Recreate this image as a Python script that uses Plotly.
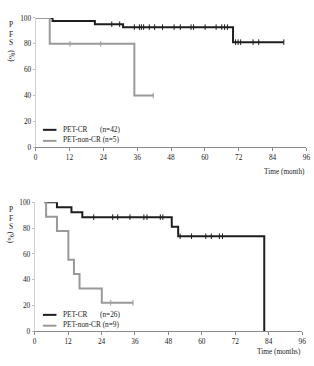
import plotly.graph_objects as go

# ---------------- data ----------------
# Top panel (PET-CR n=42, PET-non-CR n=5)
top_cr_t = [0, 6, 21, 31, 70, 88]
top_cr_s = [100, 97.6, 95.2, 92.9, 81.3, 81.3]
top_cr_cens = [27, 29.8, 35, 36.8, 37.5, 38.3, 40.3, 42.2, 45, 49.1, 51.3, 55.1, 56,
               60.1, 64, 66, 67, 68, 70.9, 71.8, 72.7, 77.1, 79.1, 88]
top_ncr_t = [0, 5, 35, 41.7]
top_ncr_s = [100, 80, 40, 40]
top_ncr_cens = [12.2, 23.1, 41.7]

# Bottom panel (PET-CR n=26, PET-non-CR n=9)
bot_cr_t = [3.5, 8, 13.2, 17.1, 49.2, 51.5, 82.4]
bot_cr_s = [100, 96.2, 92.3, 88.5, 81.1, 73.7, 0]
bot_cr_cens = [21.2, 28, 29.8, 34.2, 39.2, 40.3, 45.1, 46, 52.2, 56.3, 61.4, 63.4, 66.3, 67.4]
bot_ncr_t = [3.5, 4.1, 8, 12.1, 14.1, 16.1, 24.1, 35.3]
bot_ncr_s = [100, 88.9, 77.8, 55.6, 44.4, 33.3, 22.2, 22.2]
bot_ncr_cens = [27.3, 35.3]

x_ticks = [0, 12, 24, 36, 48, 60, 72, 84, 96]
y_ticks = [0, 20, 40, 60, 80, 100]

BLACK = "#1e1e1e"
GRAY = "#9a9a9a"
TXT = "#222222"
FONT = "Liberation Serif"
W, H = 314, 366


def surv_at(ts, ss, t):
    v = ss[0]
    for ti, si in zip(ts, ss):
        if ti <= t:
            v = si
    return v


fig = go.Figure()


def add_panel(ts1, ss1, c1, ts2, ss2, c2, xa, ya):
    fig.add_trace(go.Scatter(x=ts1, y=ss1, mode="lines", line=dict(color=BLACK, width=2, shape="hv"),
                             xaxis=xa, yaxis=ya, showlegend=False, hoverinfo="skip"))
    fig.add_trace(go.Scatter(x=c1, y=[surv_at(ts1, ss1, t) for t in c1], mode="markers",
                             marker=dict(symbol="line-ns", size=4, line=dict(color=BLACK, width=1)),
                             xaxis=xa, yaxis=ya, showlegend=False, hoverinfo="skip"))
    fig.add_trace(go.Scatter(x=ts2, y=ss2, mode="lines", line=dict(color=GRAY, width=2, shape="hv"),
                             xaxis=xa, yaxis=ya, showlegend=False, hoverinfo="skip"))
    fig.add_trace(go.Scatter(x=c2, y=[surv_at(ts2, ss2, t) for t in c2], mode="markers",
                             marker=dict(symbol="line-ns", size=4, line=dict(color=GRAY, width=1)),
                             xaxis=xa, yaxis=ya, showlegend=False, hoverinfo="skip"))


add_panel(top_cr_t, top_cr_s, top_cr_cens, top_ncr_t, top_ncr_s, top_ncr_cens, "x", "y")
add_panel(bot_cr_t, bot_cr_s, bot_cr_cens, bot_ncr_t, bot_ncr_s, bot_ncr_cens, "x2", "y2")


def px(x):
    return x / W


def py(y):
    return 1 - y / H


xcommon = dict(range=[0, 96], tickvals=x_ticks, ticktext=[str(v) for v in x_ticks],
               showgrid=False, zeroline=False, showline=True, linecolor="#8a8a8a", linewidth=1,
               ticks="outside", ticklen=3, tickcolor="#8a8a8a", tickwidth=1,
               tickfont=dict(family=FONT, size=7.3, color=TXT), fixedrange=True)
ycommon = dict(range=[0, 100], tickvals=y_ticks, ticktext=[str(v) for v in y_ticks],
               showgrid=False, zeroline=False, showline=True, linecolor="#cfcfcf", linewidth=1,
               ticks="outside", ticklen=2, tickcolor="#bdbdbd", tickwidth=1,
               tickfont=dict(family=FONT, size=7.3, color=TXT), fixedrange=True)

fig.update_layout(
    width=W, height=H, margin=dict(l=0, r=0, t=0, b=0),
    paper_bgcolor="white", plot_bgcolor="white",
    xaxis=dict(domain=[px(34.3), px(310.3)], anchor="y", **xcommon),
    yaxis=dict(domain=[py(147), py(14.3)], anchor="x", **ycommon),
    xaxis2=dict(domain=[px(33.3), px(306)], anchor="y2", **xcommon),
    yaxis2=dict(domain=[py(335.7), py(203.3)], anchor="x2", **ycommon),
)

annots = []
shapes = []


def label_block(yP, yF, yS, yPct):
    f = dict(family=FONT, size=7.5, color=TXT)
    for ch, yy in (("P", yP), ("F", yF), ("S", yS)):
        annots.append(dict(x=px(9.5), y=py(yy), xref="paper", yref="paper", text=ch,
                           showarrow=False, xanchor="center", yanchor="middle", font=f))
    annots.append(dict(x=px(9.5), y=py(yPct), xref="paper", yref="paper", text="(%)", textangle=90,
                       showarrow=False, xanchor="center", yanchor="middle", font=f))


label_block(21.5, 30.8, 39.8, 54)
label_block(210.5, 219.5, 228.3, 240)

annots.append(dict(x=px(311), y=py(171.7), xref="paper", yref="paper", text="Time (month)",
                   showarrow=False, xanchor="right", yanchor="middle",
                   font=dict(family=FONT, size=7.3, color=TXT)))
annots.append(dict(x=px(307), y=py(356.7), xref="paper", yref="paper", text="Time (months)",
                   showarrow=False, xanchor="right", yanchor="middle",
                   font=dict(family=FONT, size=7.3, color=TXT)))


def legend_block(y1, y2, n1, n2):
    shapes.append(dict(type="line", xref="paper", yref="paper", x0=px(41.7), x1=px(55.5),
                       y0=py(y1 + 0.5), y1=py(y1 + 0.5), line=dict(color=BLACK, width=2)))
    shapes.append(dict(type="line", xref="paper", yref="paper", x0=px(41.7), x1=px(55.5),
                       y0=py(y2 + 1.5), y1=py(y2 + 1.5), line=dict(color=GRAY, width=2)))
    f = dict(family=FONT, size=7.3, color=TXT)
    annots.append(dict(x=px(60), y=py(y1), xref="paper", yref="paper", text="PET-CR",
                       showarrow=False, xanchor="left", yanchor="middle", font=f))
    annots.append(dict(x=px(98), y=py(y1), xref="paper", yref="paper", text=n1,
                       showarrow=False, xanchor="left", yanchor="middle", font=f))
    annots.append(dict(x=px(60), y=py(y2), xref="paper", yref="paper", text="PET-non-CR " + n2,
                       showarrow=False, xanchor="left", yanchor="middle", font=f))


legend_block(128.5, 138.8, "(n=42)", "(n=5)")
legend_block(318.2, 328.3, "(n=26)", "(n=9)")

fig.update_layout(annotations=annots, shapes=shapes)

fig.write_html("out.html")
